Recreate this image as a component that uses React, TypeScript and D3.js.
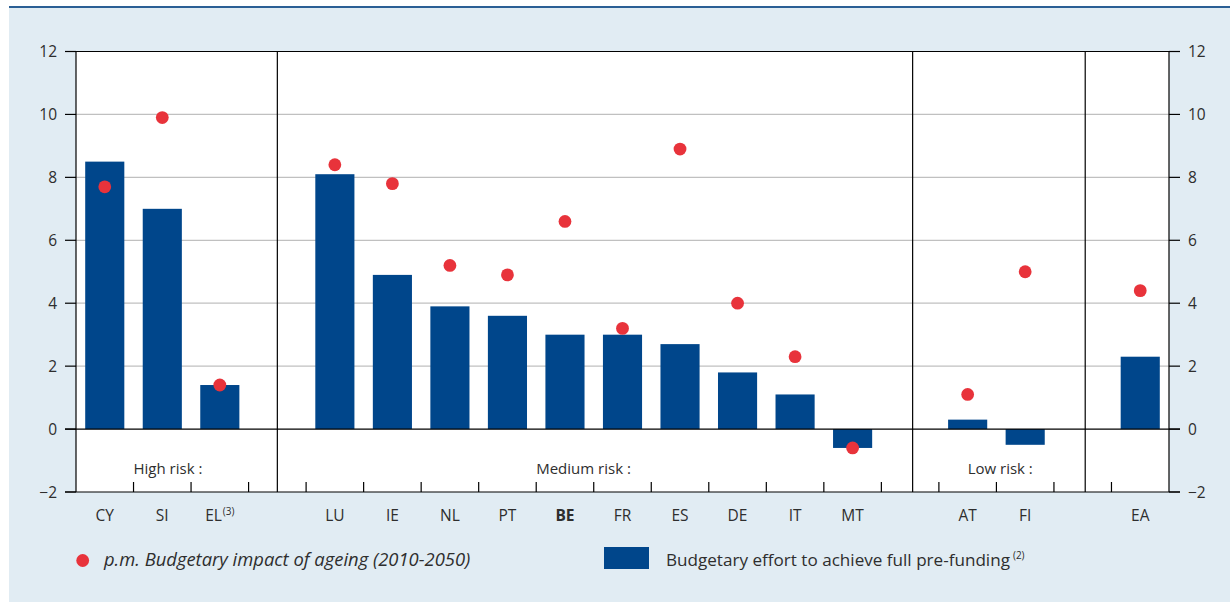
import React from "react";
import * as d3 from "d3";

const countries = ["CY", "SI", "EL", "LU", "IE", "NL", "PT", "BE", "FR", "ES", "DE", "IT", "MT", "AT", "FI", "EA"];
const effort = [8.5, 7.0, 1.4, 8.1, 4.9, 3.9, 3.6, 3.0, 3.0, 2.7, 1.8, 1.1, -0.6, 0.3, -0.5, 2.3];
const ageing = [7.7, 9.9, 1.4, 8.4, 7.8, 5.2, 4.9, 6.6, 3.2, 8.9, 4.0, 2.3, -0.6, 1.1, 5.0, 4.4];
const slots = ["CY", "SI", "EL", "gap1", "LU", "IE", "NL", "PT", "BE", "FR", "ES", "DE", "IT", "MT", "gap2", "AT", "FI", "gap3", "EA"];
const dividers = ["gap1", "gap2", "gap3"];
const groupLabels = ["High risk :", "Medium risk :", "Low risk :"];
const groupAnchor = ["SI", "BE", "AT"];
const groupAnchorOffset = [0, 0, 0.5];
const yTicks = [-2, 0, 2, 4, 6, 8, 10, 12];
const legendDots = "p.m. Budgetary impact of ageing (2010-2050)";
const legendBars = "Budgetary effort to achieve full pre-funding";

const W = 1230;
const H = 603;
const BAR = "#00468b";
const RED = "#e8333b";
const BG = "#e1ecf3";
const TXT = "#2e2e2e";
const FONT = "'Open Sans', 'Noto Sans', sans-serif";

export default function App() {
  const left = 76, right = 1169, top = 51.5, bottom = 492;
  const x = d3.scaleBand<string>().domain(slots).range([left, right]).paddingInner(0).paddingOuter(0);
  const y = d3.scaleLinear().domain([-2, 12]).range([bottom, top]);
  const bw = x.bandwidth() * 0.68;
  const step = x.step();
  const boundaries = d3.range(1, slots.length).map((i) => left + i * step);

  return (
    <svg width={W} height={H} style={{ position: "absolute", left: 0, top: 0 }} fontFamily={FONT}>
      <rect x={9} y={7} width={W - 9} height={H - 8} fill={BG} />
      <line x1={9} x2={W} y1={7} y2={7} stroke="#2b5f95" strokeWidth={2} />
      <rect x={left} y={top} width={right - left} height={bottom - top} fill="#ffffff" />

      {yTicks.filter((t) => t > 0 && t < 12).map((t) => (
        <line key={"g" + t} x1={left} x2={right} y1={y(t)} y2={y(t)} stroke="#c0c0c0" strokeWidth={1.2} />
      ))}

      {countries.map((c, i) => {
        const v = effort[i];
        return (
          <rect
            key={"b" + c}
            x={(x(c) as number) + (x.bandwidth() - bw) / 2}
            y={y(Math.max(0, v))}
            width={bw}
            height={Math.abs(y(v) - y(0))}
            fill={BAR}
          />
        );
      })}

      <line x1={left} x2={right} y1={top} y2={top} stroke="#000" strokeWidth={1.2} />
      <line x1={65} x2={1180} y1={y(0)} y2={y(0)} stroke="#000" strokeWidth={1.2} />
      <line x1={65} x2={1180} y1={bottom} y2={bottom} stroke="#000" strokeWidth={1.2} />
      <line x1={left} x2={left} y1={top} y2={bottom} stroke="#000" strokeWidth={1.2} />
      <line x1={right} x2={right} y1={top} y2={bottom} stroke="#000" strokeWidth={1.2} />
      {dividers.map((d, i) => {
        const cx = (x(d) as number) + x.bandwidth() / 2 + (i === 0 ? 0 : 2.5);
        return <line key={"d" + d} x1={cx} x2={cx} y1={top} y2={bottom} stroke="#000" strokeWidth={1.2} />;
      })}
      {boundaries.map((bx, i) => (
        <line key={"t" + i} x1={bx} x2={bx} y1={bottom} y2={bottom - 10} stroke="#000" strokeWidth={1.2} />
      ))}
      {yTicks.map((t) => (
        <g key={"yt" + t}>
          <line x1={65} x2={left} y1={y(t)} y2={y(t)} stroke="#000" strokeWidth={1.2} />
          <line x1={right} x2={1180} y1={y(t)} y2={y(t)} stroke="#000" strokeWidth={1.2} />
          <text x={57} y={y(t)} dy="0.36em" textAnchor="end" fontSize={15.5} fill={TXT}>
            {t < 0 ? "\u2212" + Math.abs(t) : t}
          </text>
          <text x={1188} y={y(t)} dy="0.36em" textAnchor="start" fontSize={15.5} fill={TXT}>
            {t < 0 ? "\u2212" + Math.abs(t) : t}
          </text>
        </g>
      ))}

      {countries.map((c, i) => (
        <circle
          key={"c" + c}
          cx={(x(c) as number) + x.bandwidth() / 2}
          cy={y(ageing[i])}
          r={6.4}
          fill={RED}
        />
      ))}

      {groupLabels.map((g, i) => (
        <text
          key={"gl" + i}
          x={(x(groupAnchor[i]) as number) + groupAnchorOffset[i] * x.bandwidth()}
          y={474}
          textAnchor="start"
          fontSize={15}
          fill={TXT}
        >
          {g}
        </text>
      ))}

      {countries.map((c) => (
        <text
          key={"xl" + c}
          x={(x(c) as number) + x.bandwidth() / 2}
          y={521}
          textAnchor="middle"
          fontSize={15.5}
          fill={TXT}
          fontWeight={c === "BE" ? "bold" : "normal"}
        >
          {c}
          {c === "EL" ? (
            <tspan fontSize={10} dx={1} dy={-6}>{"(3)"}</tspan>
          ) : null}
        </text>
      ))}

      <circle cx={82.7} cy={560.5} r={6.4} fill={RED} />
      <text x={104} y={566} fontSize={18.4} fontStyle="italic" fill={TXT}>
        {legendDots}
      </text>
      <rect x={604} y={547} width={45} height={22} fill={BAR} />
      <text x={666} y={566} fontSize={17.1} fill={TXT}>
        {legendBars}
        <tspan fontSize={10} dx={3} dy={-7}>{"(2)"}</tspan>
      </text>
    </svg>
  );
}
